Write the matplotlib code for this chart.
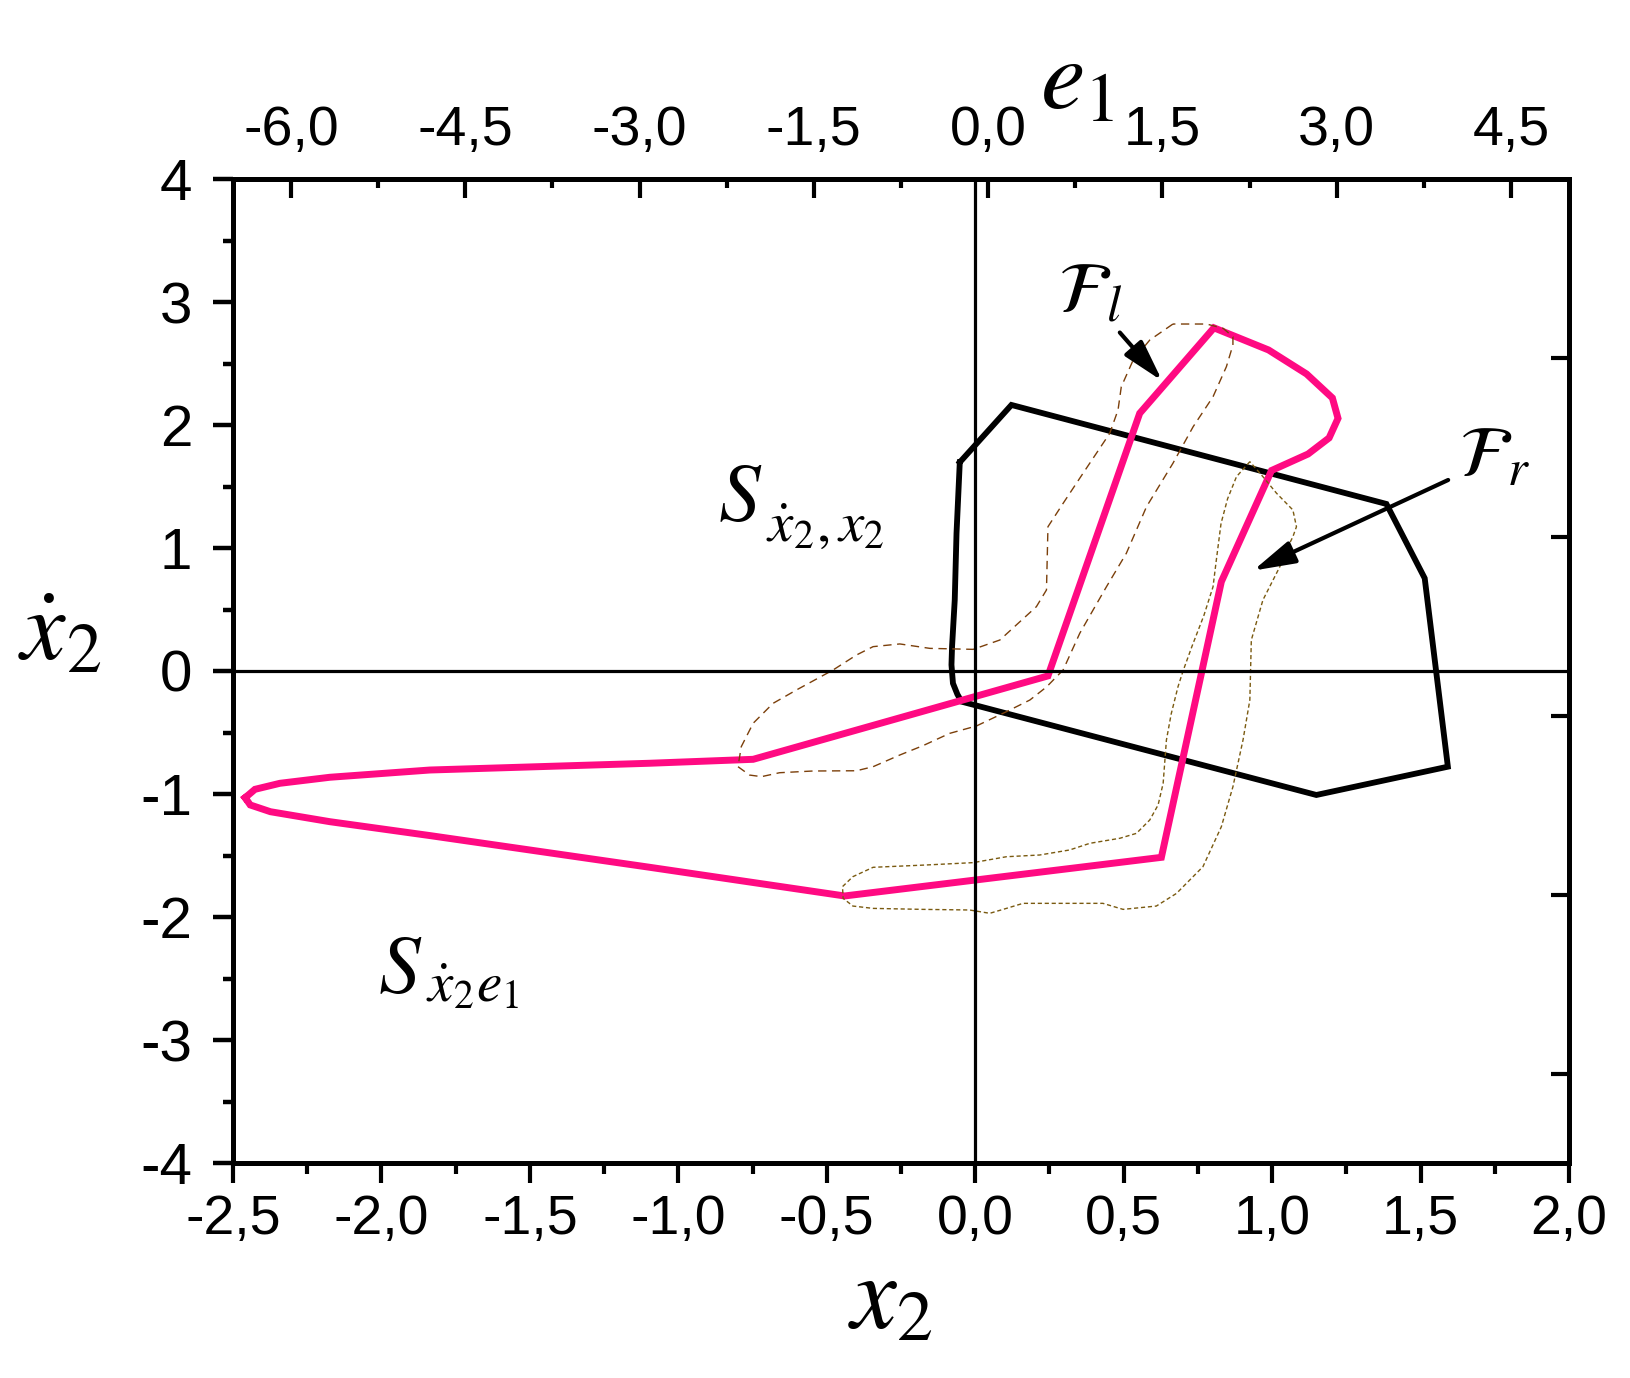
import numpy as np
import matplotlib
matplotlib.use('Agg')
import matplotlib.pyplot as plt

plt.rcParams['font.family'] = ['Liberation Sans', 'DejaVu Sans']
plt.rcParams['mathtext.fontset'] = 'stix'

# black polygon (S region boundary)
black_x2 = [-0.052, 0.122, 1.385, 1.514, 1.592, 1.149, -0.046, -0.060, -0.075, -0.080,
            -0.078, -0.069, -0.063, -0.052]
black_xd = [1.697, 2.163, 1.358, 0.754, -0.778, -1.008, -0.249, -0.19, -0.10, 0.05,
            0.20, 0.577, 1.12, 1.697]

# magenta closed curve
mag_x2 = [-2.459, -2.426, -2.342, -2.174, -1.837, -1.096, -0.748, 0.245, 0.554, 0.804,
          0.988, 1.116, 1.203, 1.222, 1.192, 1.121, 0.998, 0.829, 0.627, -0.440,
          -1.096, -1.837, -2.174, -2.374, -2.442, -2.459]
mag_xd = [-1.030, -0.962, -0.913, -0.864, -0.805, -0.750, -0.718, -0.040, 2.095, 2.790,
          2.610, 2.415, 2.220, 2.054, 1.895, 1.764, 1.630, 0.726, -1.515, -1.829,
          -1.596, -1.338, -1.225, -1.144, -1.089, -1.030]

# dashed contour around F_l
fl_x2 = [0.666, 0.588, 0.532, 0.492, 0.481, 0.453, 0.363, 0.296, 0.245, 0.240, 0.206,
         0.083, -0.007, -0.153, -0.254, -0.344, -0.400, -0.479, -0.602, -0.681, -0.748,
         -0.788, -0.799, -0.760, -0.720, -0.659, -0.546, -0.400, -0.344, -0.254, -0.176,
         -0.086, 0.004, 0.105, 0.184, 0.240, 0.296, 0.352, 0.397, 0.442, 0.509, 0.577,
         0.666, 0.734, 0.801, 0.846, 0.868, 0.868, 0.835, 0.779, 0.666]
fl_xd = [2.821, 2.691, 2.528, 2.311, 2.122, 1.932, 1.607, 1.363, 1.173, 0.659, 0.523,
         0.252, 0.176, 0.184, 0.220, 0.198, 0.130, 0.008, -0.154, -0.263, -0.425,
         -0.615, -0.778, -0.846, -0.859, -0.827, -0.813, -0.811, -0.778, -0.683, -0.607,
         -0.507, -0.447, -0.331, -0.236, -0.130, 0.008, 0.306, 0.496, 0.685, 0.957, 1.336,
         1.689, 1.986, 2.230, 2.474, 2.650, 2.718, 2.786, 2.821, 2.821]

# dotted contour around F_r
fr_x2 = [0.925, 0.880, 0.850, 0.828, 0.812, 0.801, 0.770, 0.730, 0.700, 0.683, 0.660,
         0.644, 0.633, 0.616, 0.588, 0.543, 0.487, 0.386, 0.318, 0.217, 0.105, -0.007,
         -0.164, -0.344, -0.412, -0.447, -0.445, -0.412, -0.344, -0.176, -0.019, 0.049,
         0.105, 0.161, 0.285, 0.430, 0.498, 0.610, 0.678, 0.767, 0.829, 0.868, 0.902,
         0.925, 0.930, 0.969, 1.026, 1.048, 1.070, 1.082, 1.070, 1.015, 0.969, 0.925]
fr_xd = [1.702, 1.580, 1.400, 1.200, 0.900, 0.685, 0.450, 0.200, 0.000, -0.128, -0.350,
         -0.561, -0.913, -1.089, -1.211, -1.320, -1.360, -1.401, -1.455, -1.496, -1.510,
         -1.558, -1.577, -1.596, -1.672, -1.753, -1.848, -1.911, -1.930, -1.938, -1.943,
         -1.970, -1.930, -1.889, -1.889, -1.889, -1.938, -1.911, -1.808, -1.591, -1.266,
         -0.941, -0.561, -0.236, 0.252, 0.577, 0.848, 0.984, 1.092, 1.173, 1.309, 1.445,
         1.580, 1.702]

# arrows (tail -> head)
arrow_fl = [(0.487, 2.752), (0.630, 2.358)]
arrow_fr = [(1.593, 1.553), (0.936, 0.816)]

x2_ticks = [-2.5, -2.0, -1.5, -1.0, -0.5, 0.0, 0.5, 1.0, 1.5, 2.0]
x2_labels = ['-2,5', '-2,0', '-1,5', '-1,0', '-0,5', '0,0', '0,5', '1,0', '1,5', '2,0']
xd_ticks = [-4, -3, -2, -1, 0, 1, 2, 3, 4]
xd_labels = ['-4', '-3', '-2', '-1', '0', '1', '2', '3', '4']
e1_ticks = [-6.0, -4.5, -3.0, -1.5, 0.0, 1.5, 3.0, 4.5]
e1_labels = ['-6,0', '-4,5', '-3,0', '-1,5', '0,0', '1,5', '3,0', '4,5']
right_ticks = [-2, -1, 0, 1, 2]

W, H = 1631, 1378
fig = plt.figure(figsize=(W / 100, H / 100), dpi=100)
ax = fig.add_axes([233 / W, 1 - 1163 / H, 1336 / W, 984 / H])
ax.set_xlim(-2.5, 2.0)
ax.set_ylim(-4, 4)

ax.plot(black_x2, black_xd, color='black', lw=4.2, zorder=3, solid_joinstyle='miter')
ax.plot(mag_x2, mag_xd, color='#FF0A82', lw=5.0, zorder=4, solid_joinstyle='miter')
ax.plot(fl_x2, fl_xd, color='#7B3F0A', lw=1.0, ls=(0, (6, 4)), zorder=5)
ax.plot(fr_x2, fr_xd, color='#7A5A10', lw=1.0, ls=(0, (3, 2)), zorder=5)

ax.axhline(0, color='black', lw=2.3, zorder=6)
ax.axvline(0, color='black', lw=2.3, zorder=6)

for (t, h) in [arrow_fl, arrow_fr]:
    ax.annotate('', xy=h, xytext=t,
                arrowprops=dict(arrowstyle='-|>,head_length=0.8,head_width=0.22',
                                color='black', lw=3, mutation_scale=32,
                                shrinkA=0, shrinkB=0), zorder=7)

# labels inside the plot
ax.text(-0.865, 1.22, r'$S$', fontsize=60, ha='left', va='baseline')
ax.text(-0.705, 1.055, r'$\dot{x}_2,x_2$', fontsize=41, ha='left', va='baseline')
ax.text(-2.010, -2.618, r'$S$', fontsize=60, ha='left', va='baseline')
ax.text(-1.850, -2.690, r'$\dot{x}_2 e_1$', fontsize=41, ha='left', va='baseline')
ax.text(0.280, 2.919, r'$\mathcal{F}_l$', fontsize=52, ha='left', va='baseline')
ax.text(1.628, 1.593, r'$\mathcal{F}_r$', fontsize=52, ha='left', va='baseline')

# main axes ticks
ax.set_xticks(x2_ticks, x2_labels)
ax.set_xticks(np.arange(-2.25, 2.0, 0.5), minor=True)
ax.set_yticks(xd_ticks, xd_labels)
ax.set_yticks(np.arange(-3.5, 4.0, 1.0), minor=True)
ax.tick_params(axis='x', which='major', direction='out', length=14.5, width=3.0,
               labelsize=40, pad=8, top=False)
ax.tick_params(axis='x', which='minor', direction='out', length=8, width=3.0, top=False)
ax.tick_params(axis='y', which='major', direction='out', length=14.5, width=3.2,
               labelsize=42, pad=15, right=False)
ax.tick_params(axis='y', which='minor', direction='out', length=7.5, width=3.2, right=False)
for s in ax.spines.values():
    s.set_linewidth(3.6)

# top e1 axis
def x_to_e(x):
    return (x + 2.5) * 11.5 / 4.5 - 6.5

def e_to_x(e):
    return (e + 6.5) * 4.5 / 11.5 - 2.5

top = ax.secondary_xaxis('top', functions=(x_to_e, e_to_x))
top.set_xticks(e1_ticks, e1_labels)
top.set_xticks(np.arange(-5.25, 5.0, 1.5), minor=True)
top.tick_params(which='major', direction='in', length=13.7, width=3.0, labelsize=40, pad=16)
top.tick_params(which='minor', direction='in', length=6.5, width=3.0)
top.spines['top'].set_linewidth(3.6)

# right axis (ticks only)
def y_to_r(y):
    return (y + 4) * 5.5 / 8 - 2.5

def r_to_y(r):
    return (r + 2.5) * 8 / 5.5 - 4

right = ax.secondary_yaxis('right', functions=(y_to_r, r_to_y))
right.set_yticks(right_ticks)
right.set_yticklabels([])
right.tick_params(direction='in', length=13, width=3.0)
right.spines['right'].set_linewidth(3.6)

# axis titles
fig.text(848 / W, 1 - 1327 / H, r'$x_2$', fontsize=74, ha='left', va='baseline')
fig.text(18 / W, 1 - 660 / H, r'$\dot{x}_2$', fontsize=72, ha='left', va='baseline')
fig.text(1040 / W, 1 - 109 / H, r'$e_1$', fontsize=72, ha='left', va='baseline')

fig.savefig('out.png', dpi=100)
